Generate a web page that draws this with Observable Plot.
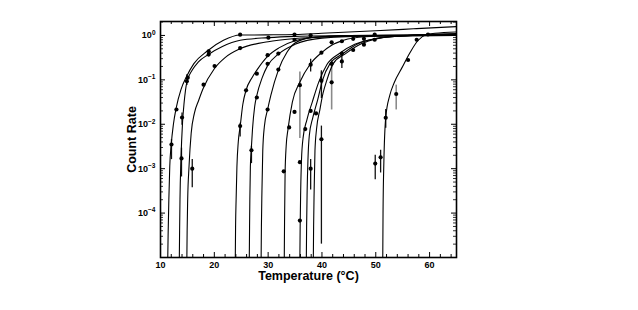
<!DOCTYPE html>
<html><head><meta charset="utf-8">
<script src="https://cdn.jsdelivr.net/npm/d3@7"></script>
<script src="https://cdn.jsdelivr.net/npm/@observablehq/plot@0.6"></script>
<style>body{margin:0;background:#fff}</style>
</head><body><div id="chart"></div>
<script>
// ---- fitted curves (temperature °C, count rate) ----
const c1T = [11.35, 11.42, 11.55, 11.72, 12.0, 12.4, 12.9, 13.8, 14.8, 16.2, 18.7, 21.7, 24.8, 29.8, 35, 40, 50, 57, 65];
const c1V = [1e-5, 3.5e-5, 2e-4, 1.12e-3, 3.6e-3, 0.01, 0.0229, 0.0603, 0.116, 0.232, 0.447, 0.776, 1.02, 1.03, 1.05, 1.12, 1.28, 1.41, 1.58];
const c2T = [13.5, 13.55, 13.62, 13.8, 14.1, 14.4, 14.9, 15.9, 17.0, 18.9, 21.5, 24.8, 30, 35, 45, 65];
const c2V = [1e-5, 4e-5, 2e-4, 1.6e-3, 0.0112, 0.0316, 0.0891, 0.166, 0.251, 0.372, 0.562, 0.776, 0.891, 0.955, 1.0, 1.023];
const c3T = [14.9, 14.95, 15.05, 15.3, 15.7, 16.3, 17.1, 17.9, 20.0, 22, 24.8, 30, 35, 42, 50, 65];
const c3V = [1e-5, 4e-5, 2e-4, 1.12e-3, 6.3e-3, 0.0178, 0.0347, 0.063, 0.178, 0.316, 0.501, 0.724, 0.851, 0.933, 0.977, 1.0];
const c4T = [23.9, 23.95, 24.05, 24.2, 24.45, 24.8, 25.3, 25.9, 27.0, 27.9, 29.9, 32, 35, 40, 50, 65];
const c4V = [1e-5, 5e-5, 2e-4, 1.12e-3, 4e-3, 8.9e-3, 0.0282, 0.0589, 0.112, 0.166, 0.339, 0.525, 0.759, 0.933, 1.0, 1.047];
const c5T = [26.5, 26.55, 26.6, 26.7, 26.85, 27.1, 27.5, 27.9, 28.9, 29.9, 31.9, 35, 40, 50, 65];
const c5V = [1e-5, 5e-5, 2e-4, 1.12e-3, 2.57e-3, 7.9e-3, 0.0251, 0.0447, 0.112, 0.209, 0.38, 0.631, 0.871, 0.977, 1.0];
const c6T = [28.7, 28.75, 28.85, 29.0, 29.3, 29.9, 30.5, 31.9, 33.5, 35, 38, 45, 65];
const c6V = [1e-5, 5e-5, 3.2e-4, 2.5e-3, 8.9e-3, 0.0214, 0.0447, 0.166, 0.417, 0.676, 0.891, 1.0, 1.023];
const c7T = [33.0, 33.05, 33.15, 33.35, 33.7, 34.5, 35.9, 37.8, 40, 41.8, 44, 48, 55, 65];
const c7V = [1e-5, 6.3e-5, 7.9e-4, 3.2e-3, 7.9e-3, 0.0316, 0.0891, 0.224, 0.417, 0.603, 0.776, 0.933, 1.0, 1.05];
const c8T = [35.9, 35.95, 36.05, 36.2, 36.5, 37.2, 38.2, 39.4, 40.9, 43.3, 46.1, 50, 55, 65];
const c8V = [1e-5, 5e-5, 3.2e-4, 1.6e-3, 5e-3, 0.0126, 0.0316, 0.0891, 0.219, 0.398, 0.631, 0.851, 0.977, 1.047];
const c9T = [37.1, 37.15, 37.25, 37.4, 37.65, 38.3, 39.2, 40.1, 41.5, 43.9, 46.7, 50, 55, 65];
const c9V = [1e-5, 5e-5, 3.2e-4, 1.6e-3, 5.6e-3, 0.0141, 0.0355, 0.0977, 0.232, 0.389, 0.646, 0.851, 0.977, 1.072];
const c10T = [38.4, 38.45, 38.55, 38.7, 39.0, 39.6, 40.2, 40.9, 42.1, 44.4, 47.3, 50.5, 55, 65];
const c10V = [1e-5, 5e-5, 3.2e-4, 2.5e-3, 7.9e-3, 0.0209, 0.05, 0.0977, 0.232, 0.389, 0.646, 0.851, 0.977, 1.1];
const c11T = [51.3, 51.35, 51.5, 51.85, 52.6, 53.4, 54.9, 56.3, 57.8, 59.4, 61, 65];
const c11V = [1e-5, 1e-4, 1.32e-3, 0.0141, 0.0447, 0.0851, 0.191, 0.398, 0.759, 1.047, 1.122, 1.2];

// ---- measured points ----
const dotT = [12.04, 12.96, 13.9, 14.0, 14.9, 15.06, 15.9, 18.0, 18.95, 18.95, 20.05, 24.8, 24.8, 30.05, 34.9,
  24.8, 25.9, 26.9, 27.9, 27.9, 29.9, 29.9, 29.9, 31.9, 31.9, 32.9, 33.9, 34.9, 34.9, 35.9, 35.9, 35.9, 36.9,
  37.9, 37.9, 37.9, 37.9, 38.9, 39.9, 39.9, 39.9, 41.8, 41.8, 41.8, 43.7, 43.7, 43.7, 45.8, 45.8, 47.8, 47.8,
  49.8, 49.8, 49.9, 50.9, 51.85, 53.8, 56.0, 57.6, 59.7];
const dotV = [0.0035, 0.0215, 0.0017, 0.0142, 0.093, 0.112, 0.001, 0.078, 0.44, 0.37, 0.205, 1.04, 0.52, 0.89, 1.05,
  0.0091, 0.058, 0.0026, 0.138, 0.04, 0.36, 0.23, 0.0215, 0.39, 0.17, 0.00087, 0.0085, 0.019, 0.80, 0.076, 0.0014, 0.000068, 0.0078,
  1.0, 0.22, 0.02, 0.001, 0.0175, 0.41, 0.096, 0.0046, 0.70, 0.23, 0.088, 0.74, 0.39, 0.26, 0.84, 0.47, 0.84, 0.62,
  1.05, 0.8, 0.0013, 0.0018, 0.014, 0.048, 0.28, 0.8, 1.05];

// ---- error bars (dark and gray) ----
const barT  = [12.04, 13.9, 14.0, 14.9, 15.9, 24.8, 26.9, 37.9, 39.9, 37.9, 39.9, 39.9, 43.7, 49.9, 50.9, 51.85];
const barLo = [0.0016, 0.00065, 0.0095, 0.075, 0.00037, 0.0052, 0.0013, 0.00033, 0.00002, 0.15, 0.06, 0.038, 0.18, 0.00056, 0.0008, 0.0081];
const barHi = [0.0045, 0.0029, 0.018, 0.13, 0.0016, 0.0105, 0.0032, 0.0016, 0.0091, 0.29, 0.16, 0.15, 0.42, 0.002, 0.0026, 0.0215];
const grayT  = [35.9, 41.8, 53.8];
const grayLo = [0.0048, 0.021, 0.021];
const grayHi = [0.15, 0.275, 0.076];

// ---- axes ----
const xDomain = [10, 65];
const yDomain = [1e-5, 2.06];
const xTicks = [10, 20, 30, 40, 50, 60];
const xMinor = [12, 14, 16, 18, 22, 24, 26, 28, 32, 34, 36, 38, 42, 44, 46, 48, 52, 54, 56, 58, 62, 64];
const yTicks = [1, 0.1, 0.01, 0.001, 0.0001];
const yTickLabels = ["10^0", "10^−1", "10^−2", "10^−3", "10^−4"];

const curves = [[c1T,c1V],[c2T,c2V],[c3T,c3V],[c4T,c4V],[c5T,c5V],[c6T,c6V],[c7T,c7V],[c8T,c8V],[c9T,c9V],[c10T,c10V],[c11T,c11V]];
const curveRows = curves.flatMap(([T, V], k) => T.map((t, i) => ({id: k, T: t, v: V[i]})));
const dots = dotT.map((t, i) => ({T: t, v: dotV[i]}));
const bars = barT.map((t, i) => ({T: t, lo: barLo[i], hi: barHi[i]}));
const grays = grayT.map((t, i) => ({T: t, lo: grayLo[i], hi: grayHi[i]}));

const ml = 160, mr = 182, mt = 21, mb = 53, W = 638, H = 310;
const iw = W - ml - mr, ih = H - mt - mb;
const yAll = d3.scaleLog().domain(yDomain).ticks();
const yMinor = yAll.filter(v => !yTicks.includes(v) && v > yDomain[0]);

const svg = Plot.plot({
  width: W, height: H,
  marginLeft: ml, marginRight: mr, marginTop: mt, marginBottom: mb,
  style: {fontFamily: "'Liberation Sans', Arial, Helvetica, sans-serif", fontWeight: "bold", fontSize: "9px", background: "white", color: "black"},
  x: {domain: xDomain, axis: null},
  y: {type: "log", domain: yDomain, axis: null},
  marks: [
    Plot.ruleX(grays, {x: "T", y1: "lo", y2: "hi", stroke: "#8a8a8a", strokeWidth: 1.6}),
    Plot.ruleX(bars, {x: "T", y1: "lo", y2: "hi", stroke: "#111", strokeWidth: 1.3}),
    Plot.line(curveRows, {x: "T", y: "v", z: "id", curve: "monotone-x", stroke: "black", strokeWidth: 1.1, clip: true}),
    Plot.dot(dots, {x: "T", y: "v", r: 2.1, fill: "black", stroke: "none"}),
    // inward ticks on all four sides
    Plot.ruleX(xTicks, {x: d => d, insetTop: ih - 5, stroke: "black", strokeWidth: 1}),
    Plot.ruleX(xTicks, {x: d => d, insetBottom: ih - 5, stroke: "black", strokeWidth: 1}),
    Plot.ruleX(xMinor, {x: d => d, insetTop: ih - 3, stroke: "black", strokeWidth: 1}),
    Plot.ruleX(xMinor, {x: d => d, insetBottom: ih - 3, stroke: "black", strokeWidth: 1}),
    Plot.ruleY(yTicks, {y: d => d, insetRight: iw - 5, stroke: "black", strokeWidth: 1}),
    Plot.ruleY(yTicks, {y: d => d, insetLeft: iw - 5, stroke: "black", strokeWidth: 1}),
    Plot.ruleY(yMinor, {y: d => d, insetRight: iw - 3, stroke: "black", strokeWidth: 0.8}),
    Plot.ruleY(yMinor, {y: d => d, insetLeft: iw - 3, stroke: "black", strokeWidth: 0.8}),
    Plot.frame({stroke: "black", strokeWidth: 1.6}),
    Plot.axisX({ticks: xTicks, tickSize: 0, tickPadding: 4, tickFormat: d => String(d), fontSize: 9, fontWeight: "bold", label: null}),
    Plot.axisY({ticks: yTicks, tickSize: 0, tickPadding: 5, tickFormat: d => yTickLabels[yTicks.indexOf(d)], fontSize: 9, fontWeight: "bold", label: null}),
    Plot.text(["Temperature (°C)"], {text: d => d, frameAnchor: "bottom", textAnchor: "middle", dy: 18, fontSize: 12.5, fontWeight: "bold", lineAnchor: "middle"}),
    Plot.text(["Count Rate"], {text: d => d, frameAnchor: "left", textAnchor: "middle", dx: -29, rotate: -90, fontSize: 12.5, fontWeight: "bold", lineAnchor: "middle"})
  ]
});

// superscript exponents on y tick labels
d3.select(svg).selectAll('g[aria-label="y-axis tick label"] text').each(function () {
  const s = this.textContent;
  if (!s.includes("^")) return;
  const [b, e] = s.split("^");
  const t = d3.select(this);
  t.text(null);
  t.append("tspan").text(b);
  t.append("tspan").attr("dy", "-0.55em").attr("font-size", "6.5px").text(e);
});

document.getElementById("chart").appendChild(svg);
</script>
</body></html>
